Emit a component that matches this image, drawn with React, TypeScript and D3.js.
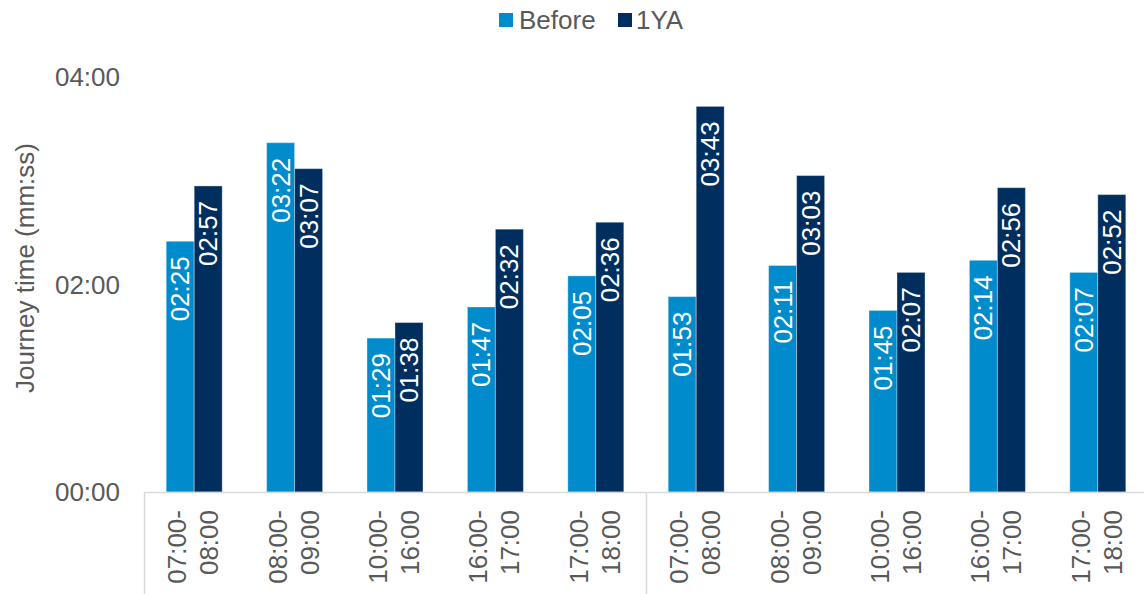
import React from "react";
import * as d3 from "d3";

const categories = ["07:00-\n08:00", "08:00-\n09:00", "10:00-\n16:00", "16:00-\n17:00", "17:00-\n18:00", "07:00-\n08:00", "08:00-\n09:00", "10:00-\n16:00", "16:00-\n17:00", "17:00-\n18:00"];
const seriesNames = ["Before", "1YA"];
const beforeValues = [145, 202, 89, 107, 125, 113, 131, 105, 134, 127];
const yaValues = [177, 187, 98, 152, 156, 223, 183, 127, 176, 172];
const yTicks = [0, 120, 240];
const colors = ["#008BCC", "#002F5F"];

const W = 1144;
const H = 594;
const FONT = "'Liberation Sans', Arial, sans-serif";
const TXT = "#595959";

function fmt(s: number) {
  const m = Math.floor(s / 60);
  const sec = s % 60;
  return `${String(m).padStart(2, "0")}:${String(sec).padStart(2, "0")}`;
}

export default function App() {
  const idx = categories.map((_, i) => String(i));
  const x = d3.scaleBand<string>().domain(idx).range([144, 1148]).padding(0);
  const inner = d3.scaleBand<string>().domain(seriesNames).range([0, 56]).padding(0);
  const y = d3.scaleLinear().domain([0, 240]).range([492, 77]);
  const series = [beforeValues, yaValues];
  const step = x.bandwidth();

  return (
    <svg width={W} height={H} style={{ position: "absolute", left: 0, top: 0, background: "#fff" }} fontFamily={FONT}>
      {/* legend */}
      <g>
        <rect x={499} y={13} width={14} height={14} fill={colors[0]} />
        <text x={519} y={20} dominantBaseline="central" fontSize={26} fill={TXT}>Before</text>
        <rect x={618} y={13} width={14} height={14} fill={colors[1]} />
        <text x={636} y={20} dominantBaseline="central" fontSize={26} fill={TXT}>1YA</text>
      </g>
      {/* y ticks */}
      {yTicks.map((t) => (
        <text key={t} x={120} y={y(t)} textAnchor="end" dominantBaseline="central" fontSize={26} fill={TXT}>
          {fmt(t)}
        </text>
      ))}
      <text transform={`translate(25,268) rotate(-90)`} textAnchor="middle" dominantBaseline="central" fontSize={26} fill={TXT}>
        Journey time (mm:ss)
      </text>
      {/* bars */}
      {idx.map((c, i) => {
        const cx = (x(c) as number) + step / 2;
        return (
          <g key={c}>
            {series.map((vals, si) => {
              const bx = cx - 28 + (inner(seriesNames[si]) as number);
              const bw = inner.bandwidth();
              const top = y(vals[i]);
              return (
                <g key={si}>
                  <rect x={bx} y={top} width={bw} height={y(0) - top} fill={colors[si]} stroke="rgba(255,255,255,0.35)" strokeWidth={1} />
                  <text
                    transform={`translate(${bx + bw / 2},${top + 15}) rotate(-90)`}
                    textAnchor="end"
                    dominantBaseline="central"
                    fontSize={26}
                    fill="#ffffff"
                  >
                    {fmt(vals[i])}
                  </text>
                </g>
              );
            })}
          </g>
        );
      })}
      {/* axes */}
      <line x1={144} x2={W} y1={492.5} y2={492.5} stroke="#d9d9d9" strokeWidth={1.5} />
      <line x1={144.5} x2={144.5} y1={492} y2={H} stroke="#d9d9d9" strokeWidth={1.5} />
      <line x1={(x("5") as number) + 0.5} x2={(x("5") as number) + 0.5} y1={492} y2={H} stroke="#d9d9d9" strokeWidth={1.5} />
      {/* x labels */}
      {idx.map((c, i) => {
        const cx = (x(c) as number) + step / 2;
        const lines = categories[i].split("\n");
        return (
          <text key={c} transform={`translate(${cx},510) rotate(-90)`} textAnchor="end" dominantBaseline="central" fontSize={26} fill={TXT}>
            {lines.map((l, li) => (
              <tspan key={li} x={0} y={li === 0 ? -17 : 15}>
                {l}
              </tspan>
            ))}
          </text>
        );
      })}
    </svg>
  );
}
